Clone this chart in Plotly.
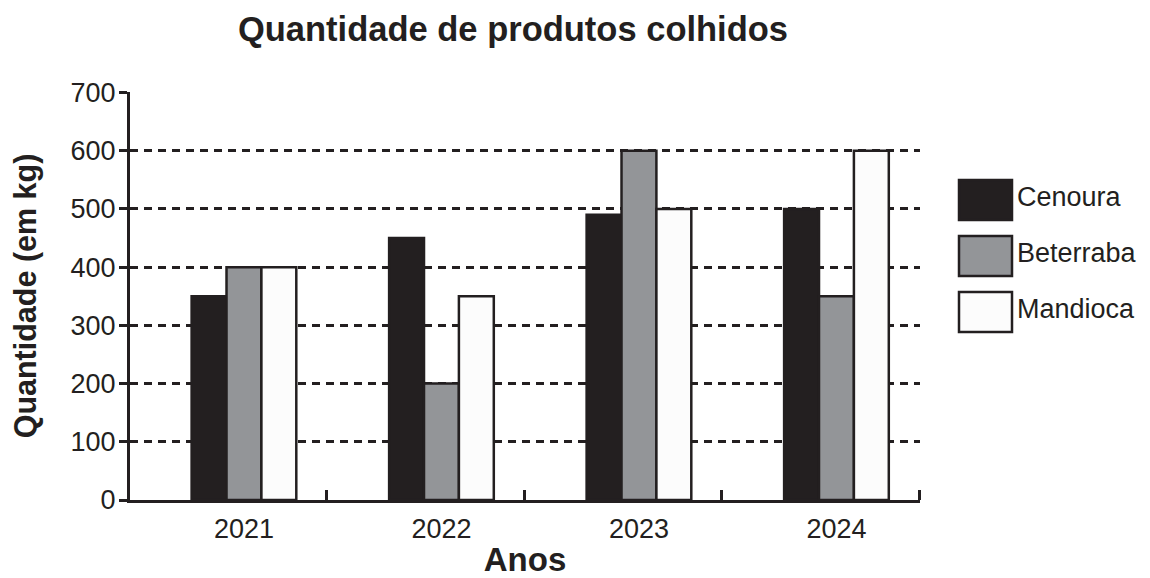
import plotly.graph_objects as go

# ---- data ----
anos = ["2021", "2022", "2023", "2024"]
series_names = ["Cenoura", "Beterraba", "Mandioca"]
cenoura = [350, 450, 490, 500]
beterraba = [400, 200, 600, 350]
mandioca = [400, 350, 500, 600]
series_values = [cenoura, beterraba, mandioca]
y_ticks = [0, 100, 200, 300, 400, 500, 600, 700]

# ---- style ----
INK = "#231f20"
colors = ["#231f20", "#939598", "#fcfcfc"]
FONT = "Arial, Liberation Sans, Helvetica, sans-serif"

W, H = 1150, 578
OFF = 8  # page body margin
ML, MT = 130 - OFF, 92 - OFF
MR = W - (920 - OFF)
MB = H - (500 - OFF)
PW, PH = W - ML - MR, H - MT - MB

xpos = list(range(len(anos)))

fig = go.Figure()
for name, vals, col in zip(series_names, series_values, colors):
    fig.add_trace(go.Bar(
        x=xpos, y=vals, name=name,
        marker=dict(color=col, line=dict(color=INK, width=2.5)),
        showlegend=False,
    ))

fig.update_layout(
    width=W, height=H,
    margin=dict(l=ML, r=MR, t=MT, b=MB, autoexpand=False),
    plot_bgcolor="white", paper_bgcolor="white",
    barmode="group", bargap=0.47, bargroupgap=0,
    font=dict(family=FONT, color=INK, size=27),
    title=dict(text="<b>Quantidade de produtos colhidos</b>",
               font=dict(size=34.5, color=INK, family=FONT),
               xref="container", x=505 / W, xanchor="center",
               yref="container", y=1 - 21 / H, yanchor="middle"),
)

fig.update_xaxes(
    range=[-0.577, 3.423],
    tickmode="array", tickvals=xpos, ticktext=anos,
    ticks="", showgrid=False, zeroline=False, automargin=False,
    showline=True, linecolor=INK, linewidth=3,
    tickfont=dict(size=27, color=INK), ticklabelstandoff=3,
    minor=dict(ticks="inside", ticklen=10, tickwidth=3, tickcolor=INK,
               tickmode="linear", tick0=0.42, dtick=1, showgrid=False),
    title=dict(text="<b>Anos</b>", font=dict(size=33, color=INK), standoff=5),
)

fig.update_yaxes(
    range=[0, 701],
    tickmode="array", tickvals=y_ticks,
    ticks="outside", ticklen=8, tickwidth=3, tickcolor=INK,
    showline=True, linecolor=INK, linewidth=3,
    showgrid=True, gridcolor=INK, gridwidth=2.5, griddash="8px,6px",
    zeroline=False, automargin=False,
    tickfont=dict(size=27, color=INK), ticklabelstandoff=-2,
    title=dict(text="<b>Quantidade (em kg)</b>", font=dict(size=30.5, color=INK), standoff=25),
)

# ---- legend (drawn from the series lists) ----
def px_x(p):
    return (p - OFF - ML) / PW

def px_y(p):
    return (H - MB - (p - OFF)) / PH

leg_x0, leg_w, leg_h = 959, 53, 40
leg_y0, leg_step = 200, 56
for i, (name, col) in enumerate(zip(series_names, colors)):
    cy = leg_y0 + i * leg_step
    fig.add_shape(type="rect", xref="paper", yref="paper",
                  x0=px_x(leg_x0), x1=px_x(leg_x0 + leg_w),
                  y0=px_y(cy + leg_h / 2), y1=px_y(cy - leg_h / 2),
                  fillcolor=col, line=dict(color=INK, width=2.5))
    fig.add_annotation(xref="paper", yref="paper",
                       x=px_x(leg_x0 + leg_w + 4), y=px_y(cy - 3),
                       text=name, showarrow=False, xanchor="left", yanchor="middle",
                       borderpad=0,
                       font=dict(size=27, color=INK, family=FONT))

fig.write_html("out.html")
